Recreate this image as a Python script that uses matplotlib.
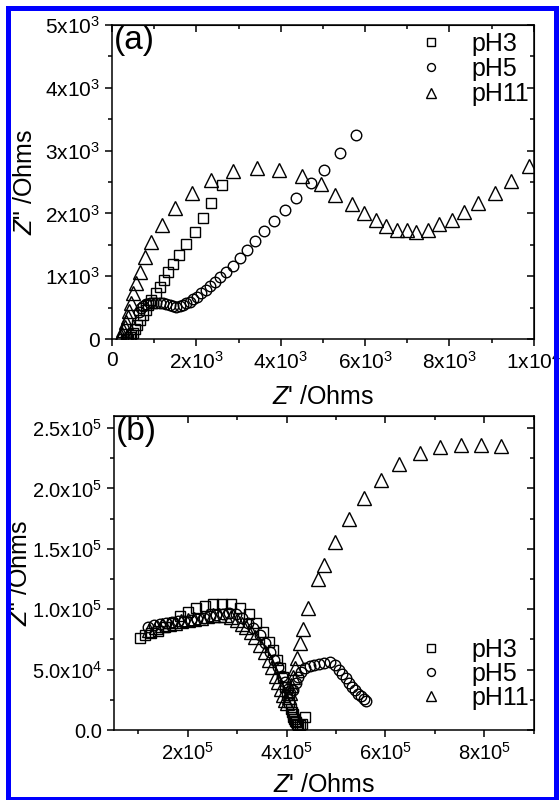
import matplotlib
matplotlib.use("Agg")
import matplotlib.pyplot as plt
from matplotlib.ticker import FixedLocator, FixedFormatter, MultipleLocator
from matplotlib.patches import Rectangle

plt.rcParams['font.family'] = ['Liberation Sans', 'DejaVu Sans']
plt.rcParams['mathtext.fontset'] = 'custom'
plt.rcParams['mathtext.rm'] = 'Liberation Sans'
plt.rcParams['mathtext.it'] = 'Liberation Sans:italic'

# ---- panel (a): Z' and Z'' in Ohms ----
a_ph3_x = [330, 360, 380, 419, 458, 498, 537, 593, 656, 735, 798, 853, 932, 1035,
           1130, 1225, 1327, 1446, 1600, 1762, 1960, 2158, 2355, 2611]
a_ph3_y = [3, 6, 11, 32, 69, 106, 159, 228, 308, 387, 467, 546, 626, 732,
           827, 944, 1076, 1198, 1341, 1511, 1702, 1925, 2163, 2455]

a_ph5_x = [640, 679, 735, 814, 893, 972, 1051, 1130, 1209, 1288, 1367, 1446, 1525,
           1604, 1683, 1762, 1840, 1920, 2014, 2117, 2220, 2314, 2433, 2567, 2709,
           2867, 3025, 3207, 3397, 3602, 3831, 4092, 4371, 4711, 5034, 5400, 5782]
a_ph5_y = [440, 493, 530, 562, 573, 583, 583, 583, 573, 562, 546, 530, 520,
           530, 546, 573, 599, 636, 679, 732, 785, 849, 917, 997, 1076,
           1172, 1288, 1421, 1569, 1713, 1872, 2047, 2243, 2481, 2694, 2969, 3250]

a_ph11_x = [200, 220, 245, 270, 300, 330, 370, 410, 455, 505, 570, 656, 775, 932,
            1193, 1500, 1888, 2355, 2874, 3435, 3971, 4498, 4966, 5289, 5697, 5986,
            6267, 6497, 6752, 6990, 7202, 7500, 7755, 8052, 8350, 8690, 9073, 9473, 9881]
a_ph11_y = [20, 50, 90, 140, 200, 270, 350, 450, 580, 730, 890, 1076, 1304, 1553,
            1819, 2084, 2333, 2534, 2667, 2720, 2683, 2598, 2471, 2296, 2153, 2004,
            1898, 1803, 1739, 1729, 1702, 1729, 1835, 1898, 2015, 2163, 2322, 2519, 2757]

# ---- panel (b): values in units of 1e5 Ohms ----
b_ph3_x = [1.03, 1.13, 1.26, 1.40, 1.54, 1.69, 1.84, 2.01, 2.17, 2.34, 2.51, 2.70,
           2.87, 3.05, 3.24, 3.39, 3.53, 3.64, 3.73, 3.80, 3.86, 3.92, 3.97, 4.01,
           4.05, 4.08, 4.10, 4.12, 4.13, 4.15, 4.16, 4.18, 4.20, 4.24, 4.28, 4.32, 4.38]
b_ph3_y = [0.76, 0.79, 0.80, 0.82, 0.85, 0.89, 0.946, 0.98, 1.01, 1.03, 1.043, 1.043,
           1.04, 1.01, 0.96, 0.885, 0.815, 0.73, 0.66, 0.58, 0.51, 0.435, 0.36, 0.29,
           0.23, 0.175, 0.15, 0.135, 0.11, 0.09, 0.075, 0.065, 0.05, 0.045, 0.045, 0.05, 0.105]

b_ph5_x = [1.20, 1.32, 1.44, 1.56, 1.68, 1.80, 1.93, 2.06, 2.19, 2.32, 2.45, 2.58,
           2.71, 2.84, 2.97, 3.09, 3.21, 3.32, 3.46, 3.56, 3.66, 3.75, 3.83, 3.90,
           3.96, 4.02, 4.07, 4.12, 4.18, 4.24, 4.30, 4.38, 4.47, 4.56, 4.66, 4.76,
           4.88, 4.97, 5.05, 5.13, 5.20, 5.27, 5.33, 5.39, 5.44, 5.50, 5.56, 5.61]
b_ph5_y = [0.857, 0.87, 0.88, 0.89, 0.895, 0.90, 0.905, 0.91, 0.92, 0.93, 0.94, 0.95,
           0.96, 0.965, 0.96, 0.93, 0.89, 0.843, 0.79, 0.72, 0.65, 0.58, 0.52, 0.45,
           0.40, 0.34, 0.31, 0.33, 0.39, 0.44, 0.48, 0.51, 0.53, 0.54, 0.55, 0.555,
           0.565, 0.54, 0.50, 0.46, 0.43, 0.39, 0.36, 0.33, 0.30, 0.28, 0.26, 0.24]

b_ph11_x = [1.22, 1.35, 1.48, 1.61, 1.74, 1.87, 2.00, 2.13, 2.26, 2.39, 2.52, 2.64,
            2.76, 2.88, 2.99, 3.09, 3.18, 3.27, 3.36, 3.46, 3.56, 3.64, 3.71, 3.78,
            3.83, 3.89, 3.93, 3.97, 4.01, 4.04, 4.06, 4.09, 4.12, 4.16, 4.20, 4.27,
            4.34, 4.44, 4.63, 4.75, 4.98, 5.26, 5.56, 5.91, 6.28, 6.69, 7.11, 7.53,
            7.93, 8.33]
b_ph11_y = [0.83, 0.855, 0.87, 0.88, 0.89, 0.90, 0.91, 0.92, 0.93, 0.94, 0.95, 0.955,
            0.95, 0.935, 0.91, 0.88, 0.85, 0.81, 0.77, 0.70, 0.65, 0.58, 0.52, 0.45,
            0.40, 0.34, 0.29, 0.25, 0.22, 0.27, 0.31, 0.37, 0.435, 0.51, 0.60, 0.72,
            0.835, 1.01, 1.25, 1.37, 1.56, 1.75, 1.92, 2.07, 2.20, 2.29, 2.346, 2.363,
            2.363, 2.354]

labels = ['pH3', 'pH5', 'pH11']

fig = plt.figure(figsize=(5.6, 8), dpi=100)
ax1 = fig.add_axes([0.2, 0.576, 0.753, 0.393])
ax2 = fig.add_axes([0.203, 0.0875, 0.75, 0.3925])


def draw(ax, xs, ys, scale):
    ax.plot([v * scale for v in xs[0]], [v * scale for v in ys[0]], ls='none', marker='s',
            ms=7, mfc='none', mec='k', mew=1.0, label=labels[0])
    ax.plot([v * scale for v in xs[1]], [v * scale for v in ys[1]], ls='none', marker='o',
            ms=7.6, mfc='none', mec='k', mew=1.0, label=labels[1])
    ax.plot([v * scale for v in xs[2]], [v * scale for v in ys[2]], ls='none', marker='^',
            ms=10.5, mfc='none', mec='k', mew=1.0, label=labels[2])


def style(ax, xmaj, xlab, xminor, ymaj, ylab, yminor, xpad, ylx, fs):
    for s in ax.spines.values():
        s.set_linewidth(1.1)
    ax.xaxis.set_major_locator(FixedLocator(xmaj))
    ax.xaxis.set_major_formatter(FixedFormatter(xlab))
    ax.xaxis.set_minor_locator(MultipleLocator(xminor))
    ax.yaxis.set_major_locator(FixedLocator(ymaj))
    ax.yaxis.set_major_formatter(FixedFormatter(ylab))
    ax.yaxis.set_minor_locator(MultipleLocator(yminor))
    ax.tick_params(which='both', direction='out', width=1.1, labelsize=fs)
    ax.tick_params(which='major', length=5)
    ax.tick_params(which='minor', length=3)
    top = ax.secondary_xaxis('top')
    top.xaxis.set_major_locator(FixedLocator(xmaj))
    top.xaxis.set_minor_locator(MultipleLocator(xminor))
    top.tick_params(which='both', direction='in', width=1.1, labeltop=False)
    top.tick_params(which='major', length=5)
    top.tick_params(which='minor', length=3)
    right = ax.secondary_yaxis('right')
    right.yaxis.set_major_locator(FixedLocator(ymaj))
    right.yaxis.set_minor_locator(MultipleLocator(yminor))
    right.tick_params(which='both', direction='in', width=1.1, labelright=False)
    right.tick_params(which='major', length=5)
    right.tick_params(which='minor', length=3)
    ax.set_xlabel(r"$\mathit{Z}$' /Ohms", fontsize=18, labelpad=xpad)
    ax.set_ylabel(r'$\mathit{Z}$" /Ohms', fontsize=18)
    ax.yaxis.set_label_coords(ylx, 0.5)


draw(ax1, [a_ph3_x, a_ph5_x, a_ph11_x], [a_ph3_y, a_ph5_y, a_ph11_y], 1)
ax1.set_xlim(0, 10000)
ax1.set_ylim(0, 5000)
style(ax1, [0, 2000, 4000, 6000, 8000, 10000],
      ['0', r'$\mathregular{2x10^3}$', r'$\mathregular{4x10^3}$', r'$\mathregular{6x10^3}$',
       r'$\mathregular{8x10^3}$', r'$\mathregular{1x10^4}$'], 1000,
      [0, 1000, 2000, 3000, 4000, 5000],
      ['0', r'$\mathregular{1x10^3}$', r'$\mathregular{2x10^3}$', r'$\mathregular{3x10^3}$',
       r'$\mathregular{4x10^3}$', r'$\mathregular{5x10^3}$'], 500, 9, -0.178, 15)
ax1.text(0.005, 1.0, '(a)', transform=ax1.transAxes, ha='left', va='top', fontsize=24)
ax1.legend(loc='center left', bbox_to_anchor=(418 / 560, 1 - 69 / 800),
           bbox_transform=fig.transFigure, frameon=False, fontsize=18, borderpad=0,
           borderaxespad=0, handlelength=1.0, handletextpad=1.15, labelspacing=0.05,
           markerscale=0.75)

draw(ax2, [b_ph3_x, b_ph5_x, b_ph11_x], [b_ph3_y, b_ph5_y, b_ph11_y], 1e5)
ax2.set_xlim(0.5e5, 9e5)
ax2.set_ylim(0, 2.6e5)
style(ax2, [2e5, 4e5, 6e5, 8e5],
      [r'$\mathregular{2x10^5}$', r'$\mathregular{4x10^5}$', r'$\mathregular{6x10^5}$',
       r'$\mathregular{8x10^5}$'], 1e5,
      [0, 0.5e5, 1e5, 1.5e5, 2e5, 2.5e5],
      ['0.0', r'$\mathregular{5.0x10^4}$', r'$\mathregular{1.0x10^5}$', r'$\mathregular{1.5x10^5}$',
       r'$\mathregular{2.0x10^5}$', r'$\mathregular{2.5x10^5}$'], 0.25e5, 7, -0.195, 14.5)
ax2.text(0.005, 1.0, '(b)', transform=ax2.transAxes, ha='left', va='top', fontsize=24)
ax2.legend(loc='center left', bbox_to_anchor=(418 / 560, 1 - 674 / 800),
           bbox_transform=fig.transFigure, frameon=False, fontsize=18, borderpad=0,
           borderaxespad=0, handlelength=1.0, handletextpad=1.15, labelspacing=0.0,
           markerscale=0.75)

# blue frame around the whole figure
fig.patches.append(Rectangle((8 / 560, 1.5 / 800), 548 / 560, 791 / 800,
                             transform=fig.transFigure, fill=False,
                             ec='#0000ff', lw=3.6))

fig.savefig('out.png', dpi=100)
